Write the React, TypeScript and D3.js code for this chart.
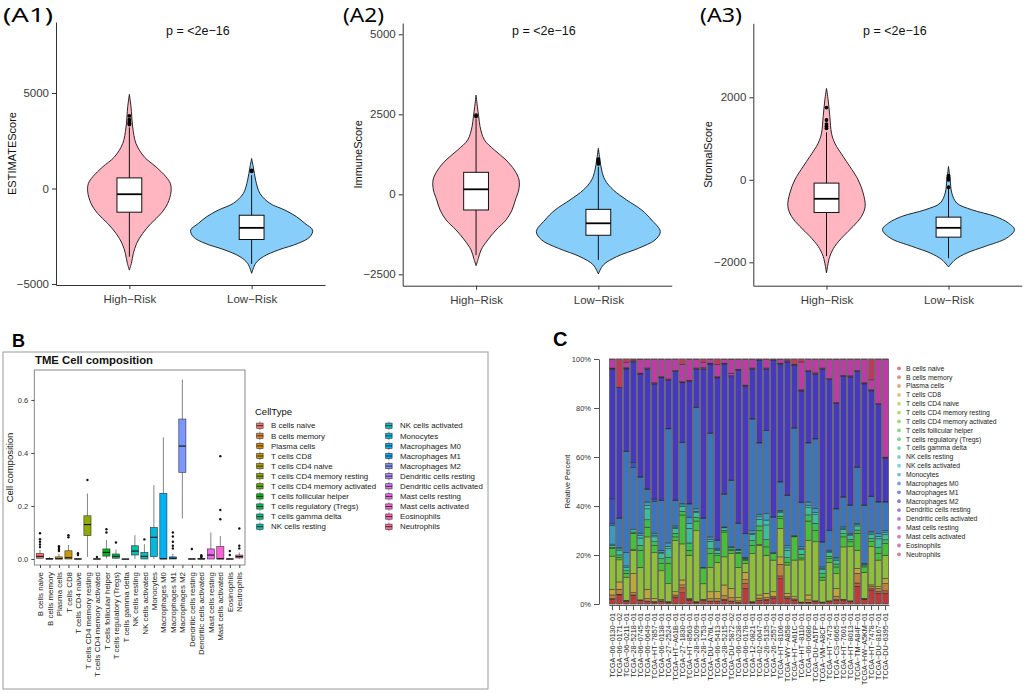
import React, { useEffect, useRef } from "react";
import * as d3 from "d3";

// ─── Page / fonts ─────────────────────────────────────────────────────────────
const W = 1026;
const H = 693;
const SANS = "'Liberation Sans', Arial, Helvetica, sans-serif";
const TAG_FONT = "'Noto Sans', 'Open Sans', sans-serif";
const M = "\u2212"; // R draws hyphens as minus signs

// ─── Panel A: risk groups, violin outlines and box stats ─────────────────────
const GROUPS = [`High${M}Risk`, `Low${M}Risk`];
const P_LABEL = `p = <2e${M}16`;

// violin outline: [score, relative density]
const ESTIMATE_HIGH: [number, number][] = [
  [4930, 0], [4270, 5], [3220, 10], [2350, 20], [1650, 45], [1130, 80], [610, 110], [260, 123],
  [-170, 125], [-780, 115], [-1310, 95], [-1830, 65], [-2350, 40], [-2870, 22], [-3400, 12],
  [-3920, 6], [-4270, 0],
];
const ESTIMATE_LOW: [number, number][] = [
  [1570, 0], [1130, 5], [440, 12], [-260, 25], [-780, 55], [-1130, 100], [-1480, 135],
  [-1830, 160], [-2180, 183], [-2530, 175], [-2870, 140], [-3220, 80], [-3570, 35],
  [-3920, 12], [-4440, 0],
];
const IMMUNE_HIGH: [number, number][] = [
  [3100, 0], [2740, 4], [2430, 8], [2115, 12], [1700, 25], [1385, 55], [1073, 90], [760, 115],
  [448, 129], [135, 128], [-177, 118], [-490, 108], [-802, 90], [-1115, 60], [-1427, 35],
  [-1740, 15], [-2000, 7], [-2230, 0],
];
const IMMUNE_LOW: [number, number][] = [
  [1437, 0], [1073, 5], [760, 10], [448, 20], [135, 45], [-177, 85], [-490, 130], [-802, 160],
  [-1167, 186], [-1427, 170], [-1688, 120], [-1948, 55], [-2208, 15], [-2490, 0],
];
const STROMAL_HIGH: [number, number][] = [
  [2218, 0], [1935, 5], [1532, 10], [1129, 15], [887, 25], [565, 50], [323, 70], [0, 95],
  [-323, 110], [-645, 116], [-887, 105], [-1129, 80], [-1371, 50], [-1613, 25], [-1855, 10],
  [-2258, 0],
];
const STROMAL_LOW: [number, number][] = [
  [323, 0], [0, 5], [-323, 10], [-565, 25], [-726, 70], [-887, 140], [-1048, 180], [-1210, 198],
  [-1411, 175], [-1613, 110], [-1774, 55], [-1935, 20], [-2113, 0],
];

// box stats: [lower whisker, q1, median, q3, upper whisker]
const ESTIMATE_BOX = [[-3570, -1240, -300, 555, 3200], [-3950, -2670, -2060, -1400, 700]];
const IMMUNE_BOX = [[-1900, -490, 156, 687, 2350], [-2050, -1280, -906, -470, 860]];
const STROMAL_BOX = [[-1850, -792, -460, -80, 1150], [-1900, -1390, -1164, -905, -200]];

const ESTIMATE_OUT = [[3350, 3420, 3500, 3600, 3800], [900, 950]];
const IMMUNE_OUT = [[2430, 2470], [950, 1000, 1050, 1100]];
const STROMAL_OUT = [[1250, 1300, 1350, 1450, 1750], [-180, 0, 30, 60, 100]];

const ESTIMATE_TICKS = [-5000, 0, 5000];
const IMMUNE_TICKS = [-2500, 0, 2500, 5000];
const STROMAL_TICKS = [-2000, 0, 2000];

// ─── Panel B / C: cell types ──────────────────────────────────────────────────
const CELL_TYPES = [
  "B cells naive", "B cells memory", "Plasma cells", "T cells CD8", "T cells CD4 naive",
  "T cells CD4 memory resting", "T cells CD4 memory activated", "T cells follicular helper",
  "T cells regulatory (Tregs)", "T cells gamma delta", "NK cells resting", "NK cells activated",
  "Monocytes", "Macrophages M0", "Macrophages M1", "Macrophages M2", "Dendritic cells resting",
  "Dendritic cells activated", "Mast cells resting", "Mast cells activated", "Eosinophils",
  "Neutrophils",
];

// panel B box stats: [lower whisker, q1, median, q3, upper whisker]
const B_STATS = [
  [0, 0.003, 0.01, 0.021, 0.034], [0, 0, 0, 0.002, 0.008], [0, 0, 0.001, 0.008, 0.02],
  [0, 0, 0.005, 0.031, 0.053], [0, 0, 0, 0.001, 0.003], [0.008, 0.088, 0.13, 0.163, 0.247],
  [0, 0, 0, 0.001, 0.002], [0.002, 0.011, 0.025, 0.038, 0.072], [0, 0.003, 0.01, 0.019, 0.036],
  [0, 0, 0, 0, 0], [0, 0.015, 0.03, 0.05, 0.09], [0, 0, 0.01, 0.025, 0.056],
  [0, 0.009, 0.082, 0.119, 0.279], [0, 0, 0.001, 0.248, 0.459], [0, 0, 0.003, 0.008, 0.02],
  [0.153, 0.327, 0.426, 0.528, 0.677], [0, 0, 0, 0.001, 0.002], [0, 0, 0, 0.002, 0.004],
  [0, 0, 0.015, 0.038, 0.1], [0, 0, 0.001, 0.047, 0.087], [0, 0, 0, 0.001, 0.003],
  [0, 0.004, 0.009, 0.015, 0.025],
];
const B_OUTLIERS = [
  [0.045, 0.055, 0.065, 0.075, 0.097], [], [0.03, 0.036, 0.042, 0.048], [0.082, 0.09],
  [0.015, 0.022], [0.298], [0.008], [0.1, 0.112], [0.062], [], [], [0.074], [], [],
  [0.04, 0.05, 0.065, 0.085, 0.1], [], [0.038], [0.006, 0.01, 0.014], [],
  [0.15, 0.185, 0.388], [0.015, 0.03], [0.04, 0.05, 0.115],
];
const B_TICKS = [0, 0.2, 0.4, 0.6];

// panel C samples and composition (percent per sample)
const SAMPLES = [
  "06-0130-01", "06-0171-02", "06-0211-01", "28-5218-01", "06-0745-01", "06-0649-01",
  "HT-7857-01", "06-0138-01", "27-2524-01", "HT-A61B-01", "27-1830-01", "HT-8563-01",
  "28-5209-01", "28-1753-01", "DU-A76L-01", "06-5413-01", "28-5215-01", "DU-5872-02",
  "06-0238-01", "06-0178-01", "12-0821-01", "02-0047-01", "26-5135-01", "26-2557-01",
  "HT-8106-01", "WY-A858-01", "HT-A61C-01", "HT-8110-01", "06-0686-01", "DU-A5TP-01",
  "VM-A8CF-01", "HT-7473-01", "CS-6665-01", "HT-7601-01", "HT-8013-01", "TM-A84F-01",
  "HW-A5KM-01", "HT-7478-01", "DU-8167-01", "DU-6395-01",
].map((s) => `TCGA-${s}`.replace(/-/g, M));

const C_B_NAIVE = [
  2, 3.7, 1, 3.5, 1.4, 1, 0.5, 1, 0.5, 2.7,
  4.6, 1.6, 0.5, 1.4, 1, 1, 1.6, 1, 0.5, 6.4,
  0.5, 1.4, 1.6, 2.3, 10.5, 2.3, 1.6, 0.5, 0.5, 1,
  0.5, 1, 1.6, 1.6, 1, 7.3, 1.9, 5.7, 4.4, 4.4,
];
const C_B_MEMORY = [
  0.2, 0.3, 0.1, 0.2, 0.1, 0.2, 0.1, 0.1, 0.1, 0.2,
  2, 0.1, 0.1, 0.1, 0.2, 0.2, 0.3, 0.2, 0.1, 2,
  0.1, 0.2, 0.2, 0.2, 1, 0.2, 0.1, 0.1, 0.2, 0.1,
  0.1, 0.1, 0.2, 0.1, 0.1, 1.3, 0.1, 0.6, 0.7, 1,
];
const C_PLASMA = [
  1.5, 2, 0.2, 1, 0.1, 1, 0.5, 0.3, 0.2, 0.8,
  1.2, 0.2, 0.2, 0.2, 1, 1, 1.5, 1.4, 0.7, 1.6,
  0.2, 0.8, 0.8, 0.7, 4.8, 0.6, 0.4, 0.1, 1, 0.1,
  0.1, 0.1, 1.3, 0.1, 0.1, 4, 0.1, 1, 1.2, 3,
];
const C_CD8 = [
  2.3, 3, 0.2, 7.8, 0.1, 3.8, 1.2, 0.5, 0.2, 1.3,
  2, 0.4, 0.2, 0.2, 2.8, 2.8, 4.4, 3.8, 1.4, 3,
  0.2, 1.3, 1.8, 1.8, 3, 1.3, 0.9, 0.1, 2, 0.1,
  0.1, 0.1, 3.3, 0.1, 0.1, 2, 0.2, 0.5, 0.8, 2.1,
];
const C_CD4_NAIVE = [
  0, 0, 0, 0, 0, 0, 0, 0, 0, 0,
  0, 0, 0, 0, 0, 0, 0, 0, 0, 0,
  0, 0, 0, 0, 0, 0, 0, 0, 0, 0,
  0, 0, 0, 0, 0, 0, 0, 0, 0, 0,
];
const C_CD4_MEM_RESTING = [
  13.6, 9, 9.5, 9.5, 13.4, 21.5, 18.7, 11.7, 7.4, 21,
  14.7, 17.7, 29, 6.5, 10, 12, 11.5, 14.3, 12.3, 3.6,
  19.7, 20.3, 15.6, 13, 11.7, 11.6, 15, 17.2, 22.3, 24.2,
  9, 15.8, 6.1, 21.5, 22.2, 7.4, 10.7, 15.6, 10.9, 9.5,
];
const C_CD4_MEM_ACTIVATED = [
  0, 0, 0, 0.3, 0, 0, 0, 0, 0, 0,
  0, 0, 0, 0, 0, 0, 0, 0, 0, 0,
  0, 0.3, 0, 0, 0, 0, 0, 0, 0, 0,
  0, 0, 0, 0, 0, 0, 0, 0, 0, 0,
];
const C_TFH = [
  3.1, 1, 1.6, 6.7, 7, 4, 3, 3, 8.2, 1.5,
  11.8, 2, 4, 6.6, 5.7, 2.7, 10.2, 1.3, 5.7, 1.4,
  3.3, 5.7, 3.4, 2.7, 4, 1, 9.5, 0.8, 8, 4.6,
  1.2, 1.5, 2.7, 4.1, 2, 7, 2.2, 2, 2.7, 4.8,
];
const C_TREGS = [
  0.5, 1, 1, 0.5, 2, 3, 1.5, 2, 2.5, 1.5,
  1.5, 3, 1.5, 0.1, 2, 1, 0.7, 0.5, 0.5, 0.4,
  2, 2, 3, 0.1, 1, 2, 0.2, 1.5, 2.5, 3,
  1.5, 1, 1.2, 1.3, 1, 1.3, 0.5, 1.3, 2.5, 1.5,
];
const C_GAMMA_DELTA = [
  0, 0, 0, 0, 0, 0, 0, 0, 0, 0,
  0, 0, 0, 0, 0, 0, 0, 0, 0, 0,
  0, 0, 0, 0, 0, 0, 0, 0, 0, 0,
  0, 0, 0, 0, 0, 0, 0, 0, 0, 0,
];
const C_NK_RESTING = [
  0.8, 2, 1.5, 1, 3, 4.5, 2, 2, 3.5, 2,
  2, 6, 2, 0.1, 3, 1.2, 1, 0.6, 0.8, 0.4,
  2.5, 2.7, 6, 0.2, 1.5, 3, 0.3, 2, 3, 3.5,
  1.7, 1.5, 1.6, 1.8, 1.5, 1.7, 0.6, 1.8, 3.5, 2.2,
];
const C_NK_ACTIVATED = [
  0.5, 0.5, 0.5, 0, 1, 1.3, 0.5, 0.6, 1, 0.5,
  0.6, 2, 0.5, 0, 0.8, 0.3, 0.2, 0.2, 0.2, 0.1,
  0.5, 1, 2, 0, 0.4, 1, 0, 0.5, 1, 1,
  0.5, 0.5, 0.5, 0.5, 0.4, 0.5, 0.2, 0.5, 1, 0.8,
];
const C_MONOCYTES = [
  7.5, 0.5, 5.4, 0, 1, 1.5, 1, 0.8, 1.4, 0.5,
  0.6, 2.6, 1, 0, 1, 0.5, 0.2, 0.1, 0.1, 0.1,
  1, 1, 2.6, 0, 0.5, 1, 0, 0.6, 1.3, 1.5,
  0.5, 0.5, 0.5, 0.5, 0.5, 0.5, 0.1, 0.5, 1.1, 0.7,
];
const C_M0 = [
  1, 12, 41.4, 25.5, 23, 5.2, 13, 20.4, 46.7, 10.4,
  24.8, 5.4, 41.5, 20.4, 42.5, 3.3, 13.4, 27.2, 10.7, 9.8,
  45.8, 29.3, 34, 14.6, 11.6, 20.5, 44, 18, 24.2, 28.6,
  10.2, 8, 20, 12.2, 11.6, 23, 23.8, 14.3, 13, 11.8,
];
const C_M1 = [
  10, 0.2, 0.2, 2, 0.2, 0.2, 1, 0.2, 0.2, 0.2,
  0.2, 0.2, 0.2, 0.2, 0.2, 0.2, 0.2, 0.2, 0.2, 0.2,
  0.2, 0.2, 0.2, 0.2, 0.2, 0.2, 0.2, 0.2, 0.2, 0.2,
  0.2, 0.2, 0.2, 0.2, 0.2, 0.2, 0.2, 0.2, 0.2, 0.2,
];
const C_M2 = [
  53, 53, 33.6, 41, 42, 49, 47, 50.1, 19.7, 52.6,
  24.2, 50, 15.5, 61.9, 28, 66, 53, 42.2, 62.5, 60.2,
  20.2, 33.6, 25, 64, 48, 54.5, 25.5, 45.3, 29, 26.4,
  70.6, 61.7, 43, 49.2, 52.4, 39, 49.6, 42.9, 39.7, 17.7,
];
const C_DC_RESTING = [
  0.2, 0, 0.2, 0.5, 0.2, 0.2, 0.2, 0.2, 0.2, 0.2,
  0.2, 0.2, 0.2, 0.3, 0.2, 0.2, 0.2, 0.5, 0.2, 0.2,
  0.2, 0.2, 0.2, 0.2, 0.2, 0.3, 0.2, 0.2, 0.2, 0.2,
  0.2, 0.2, 0.2, 0.2, 0.2, 0.2, 0.2, 0.2, 0.2, 0.2,
];
const C_DC_ACTIVATED = [
  0, 0, 0.1, 0, 0, 0, 0.1, 0, 0, 0,
  0, 0, 0, 0, 0.1, 0, 0, 0, 0, 0,
  0, 0, 0, 0, 0, 0, 0, 0.1, 0, 0,
  0, 0, 0, 0, 0, 0, 0, 0, 0, 0,
];
const C_MAST_RESTING = [
  0.3, 0.2, 0.3, 0.2, 0.3, 0.3, 0.3, 0.3, 0.3, 0.3,
  0.3, 0.3, 0.3, 0.5, 0.3, 0.3, 0.3, 1, 0.3, 0.3,
  0.3, 0.2, 0.3, 0.2, 0.3, 0.3, 0.2, 0.3, 0.3, 0.3,
  0.3, 0.3, 0.3, 0.3, 0.3, 0.3, 0.3, 0.3, 0.3, 0.3,
];
const C_MAST_ACTIVATED = [
  3.5, 0, 2, 0.5, 5.5, 3.5, 9.5, 7, 8, 4.5,
  7, 8.5, 3.5, 2, 1.5, 5, 1.5, 5.5, 4, 10.5,
  3.5, 0, 3.5, 0, 1.5, 0.5, 0, 11.3, 4.5, 5.5,
  3.5, 7.8, 17.5, 6.5, 6.7, 4.5, 9.5, 4, 18, 40,
];
const C_EOSINOPHILS = [
  0, 0, 0, 0, 0.1, 0, 0, 0, 0, 0,
  0, 0, 0, 0, 0, 0, 0, 0.1, 0, 0,
  0, 0, 0, 0, 0, 0, 0, 0, 0, 0,
  0, 0, 0.1, 0, 0, 0, 0, 0, 0, 0,
];
const C_NEUTROPHILS = [
  0.2, 11.5, 1.5, 0.2, 0.2, 0.2, 0.2, 0.2, 0.2, 0.2,
  2.2, 0.2, 0.2, 1.5, 0.2, 2.2, 0.2, 0.2, 0.2, 0.2,
  0.2, 0.2, 0.2, 0.2, 0.2, 0.2, 2.2, 1.2, 0.2, 0.2,
  0.2, 0.2, 0.2, 0.2, 0.2, 0.2, 0.2, 8.5, 0.2, 0.2,
];
const C_COMPOSITION = [
  C_B_NAIVE, C_B_MEMORY, C_PLASMA, C_CD8, C_CD4_NAIVE, C_CD4_MEM_RESTING, C_CD4_MEM_ACTIVATED,
  C_TFH, C_TREGS, C_GAMMA_DELTA, C_NK_RESTING, C_NK_ACTIVATED, C_MONOCYTES, C_M0, C_M1, C_M2,
  C_DC_RESTING, C_DC_ACTIVATED, C_MAST_RESTING, C_MAST_ACTIVATED, C_EOSINOPHILS, C_NEUTROPHILS,
];
const C_TICKS = [0, 0.2, 0.4, 0.6, 0.8, 1];

// ─── Colours ──────────────────────────────────────────────────────────────────
const VIOLIN_FILL = ["#FFB6C1", "#87CEFA"];

// R's hcl() (polar LUV), as used by ggplot's default hue palette
function hclLuv(h: number, c: number, l: number) {
  const hr = (h * Math.PI) / 180;
  const u = c * Math.cos(hr);
  const v = c * Math.sin(hr);
  const Xn = 95.047, Yn = 100, Zn = 108.883;
  const den = Xn + 15 * Yn + 3 * Zn;
  const un = (4 * Xn) / den, vn = (9 * Yn) / den;
  const Y = l > 8 ? Yn * Math.pow((l + 16) / 116, 3) : (Yn * l) / 903.3;
  const up = u / (13 * l) + un;
  const vp = v / (13 * l) + vn;
  const X = (Y * 9 * up) / (4 * vp);
  const Z = (Y * (12 - 3 * up - 20 * vp)) / (4 * vp);
  const [x, y, z] = [X / 100, Y / 100, Z / 100];
  const lin = [
    3.2406 * x - 1.5372 * y - 0.4986 * z,
    -0.9689 * x + 1.8758 * y + 0.0415 * z,
    0.0557 * x - 0.204 * y + 1.057 * z,
  ];
  const gam = (k: number) => {
    const q = Math.min(1, Math.max(0, k));
    return q <= 0.0031308 ? 12.92 * q : 1.055 * Math.pow(q, 1 / 2.4) - 0.055;
  };
  return d3.rgb(gam(lin[0]) * 255, gam(lin[1]) * 255, gam(lin[2]) * 255).formatHex();
}

// R's rainbow(): hsv hues spread evenly
function hsv(h: number, s: number, v: number) {
  const f = (n: number) => {
    const k = (n + h / 60) % 6;
    return v - v * s * Math.max(0, Math.min(k, 4 - k, 1));
  };
  return d3.rgb(f(5) * 255, f(3) * 255, f(1) * 255).formatHex();
}

const N = CELL_TYPES.length;
const HUE_COLORS = CELL_TYPES.map((_, i) => hclLuv(15 + (360 * i) / N, 100, 65));
const RAINBOW = CELL_TYPES.map((_, i) => hsv((360 * i) / N, 0.7, 0.75));

// ─── Panel A layouts ──────────────────────────────────────────────────────────
type ViolinPanel = {
  tag: string; tagX: number; tagW: number; yTitle: string; yTitleX: number;
  x0: number; x1: number; yTop: number; yBot: number; domain: [number, number];
  ticks: number[]; pX: number; halfMax: number;
  violins: [number, number][][]; box: number[][]; out: number[][];
};

const A_PANELS: ViolinPanel[] = [
  {
    tag: "(A1)", tagX: 3, tagW: 50, yTitle: "ESTIMATEScore", yTitleX: 16,
    x0: 56, x1: 325, yTop: 22, yBot: 285, domain: [-5052, 8717], ticks: ESTIMATE_TICKS,
    pX: 166, halfMax: 61, violins: [ESTIMATE_HIGH, ESTIMATE_LOW], box: ESTIMATE_BOX, out: ESTIMATE_OUT,
  },
  {
    tag: "(A2)", tagX: 343, tagW: 41, yTitle: "ImmuneScore", yTitleX: 362,
    x0: 402.7, x1: 671.7, yTop: 23, yBot: 285.7, domain: [-2856, 5353], ticks: IMMUNE_TICKS,
    pX: 512, halfMax: 62, violins: [IMMUNE_HIGH, IMMUNE_LOW], box: IMMUNE_BOX, out: IMMUNE_OUT,
  },
  {
    tag: "(A3)", tagX: 700, tagW: 42, yTitle: "StromalScore", yTitleX: 712,
    x0: 753.3, x1: 1021.7, yTop: 23.3, yBot: 285.7, domain: [-2567, 3794], ticks: STROMAL_TICKS,
    pX: 863, halfMax: 66, violins: [STROMAL_HIGH, STROMAL_LOW], box: STROMAL_BOX, out: STROMAL_OUT,
  },
];

type Sel = d3.Selection<SVGSVGElement, unknown, null, undefined>;

function styleAxis(ax: d3.Selection<SVGGElement, unknown, null, undefined>, size: number, color: string) {
  ax.select(".domain").attr("stroke", "#333").attr("stroke-width", 1);
  ax.selectAll(".tick line").attr("stroke", "#333");
  ax.selectAll(".tick text")
    .attr("fill", color)
    .attr("font-size", size)
    .attr("font-family", SANS);
}

function drawViolinPanel(svg: Sel, p: ViolinPanel) {
  const g = svg.append("g");
  const y = d3.scaleLinear().domain(p.domain).range([p.yBot, p.yTop]);
  const x = d3.scalePoint<string>().domain(GROUPS).range([p.x0, p.x1]).padding(0.6);
  const maxD = d3.max(p.violins.flat(), (d) => d[1]) ?? 1;
  const w = d3.scaleLinear().domain([0, maxD]).range([0, p.halfMax]);
  const boxHalf = 12.4;

  p.violins.forEach((v, i) => {
    const cx = x(GROUPS[i]) ?? 0;
    const area = d3
      .area<[number, number]>()
      .y((d) => y(d[0]))
      .x0((d) => cx - w(d[1]))
      .x1((d) => cx + w(d[1]))
      .curve(d3.curveCatmullRom.alpha(0.5));
    g.append("path")
      .attr("d", area(v))
      .attr("fill", VIOLIN_FILL[i])
      .attr("stroke", "#111")
      .attr("stroke-width", 0.9);

    const [lo, q1, med, q3, hi] = p.box[i];
    g.append("line")
      .attr("x1", cx).attr("x2", cx).attr("y1", y(hi)).attr("y2", y(lo))
      .attr("stroke", "#111").attr("stroke-width", 1);
    g.append("rect")
      .attr("x", cx - boxHalf).attr("y", y(q3))
      .attr("width", boxHalf * 2).attr("height", y(q1) - y(q3))
      .attr("fill", "#fff").attr("stroke", "#111").attr("stroke-width", 1);
    g.append("line")
      .attr("x1", cx - boxHalf).attr("x2", cx + boxHalf).attr("y1", y(med)).attr("y2", y(med))
      .attr("stroke", "#000").attr("stroke-width", 1.8);
    g.selectAll(null)
      .data(p.out[i])
      .join("circle")
      .attr("cx", cx).attr("cy", (d) => y(d)).attr("r", 1.9).attr("fill", "#000");
  });

  const yAx = g.append("g").attr("transform", `translate(${p.x0},0)`)
    .call(d3.axisLeft(y).tickValues(p.ticks).tickSize(4).tickSizeOuter(0).tickFormat(d3.format("d")));
  styleAxis(yAx, 11.5, "#3a3a3a");
  const xAx = g.append("g").attr("transform", `translate(0,${p.yBot})`)
    .call(d3.axisBottom(x).tickSize(4).tickSizeOuter(0));
  styleAxis(xAx, 11.5, "#3a3a3a");
  xAx.selectAll(".tick text").attr("dy", "0.95em");

  g.append("text")
    .attr("transform", `translate(${p.yTitleX},${(p.yTop + p.yBot) / 2}) rotate(-90)`)
    .attr("text-anchor", "middle").attr("font-size", 11).attr("font-family", SANS)
    .attr("fill", "#111").text(p.yTitle);
  g.append("text")
    .attr("x", p.pX).attr("y", 35).attr("font-size", 12.5).attr("font-family", SANS)
    .attr("fill", "#111").text(P_LABEL);
  g.append("text")
    .attr("x", p.tagX).attr("y", 22).attr("font-size", 19.5).attr("font-family", TAG_FONT)
    .attr("textLength", p.tagW).attr("lengthAdjust", "spacingAndGlyphs")
    .attr("fill", "#000").text(p.tag);
}

// ─── Panel B ──────────────────────────────────────────────────────────────────
function drawBoxPanel(svg: Sel) {
  const g = svg.append("g");
  const left = 34.3, right = 245, top = 370, bottom = 565;

  g.append("rect").attr("x", 3).attr("y", 352).attr("width", 485).attr("height", 337)
    .attr("fill", "none").attr("stroke", "#9a9a9a").attr("stroke-width", 1);
  g.append("text").attr("x", 12).attr("y", 347).attr("font-size", 18).attr("font-weight", "bold")
    .attr("font-family", SANS).text("B");
  g.append("text").attr("x", 35).attr("y", 364).attr("font-size", 11.3).attr("font-weight", "bold")
    .attr("font-family", SANS).attr("fill", "#111").text("TME Cell composition");

  const y = d3.scaleLinear().domain([-0.0226, 0.713]).range([bottom, top]);
  const x = d3.scalePoint<string>().domain(CELL_TYPES).range([left, right]).padding(0.6);
  const bw = x.step() * 0.75;

  g.append("rect").attr("x", left).attr("y", top).attr("width", right - left).attr("height", bottom - top)
    .attr("fill", "#fff").attr("stroke", "#7a7a7a").attr("stroke-width", 0.9);

  CELL_TYPES.forEach((c, i) => {
    const cx = x(c) ?? 0;
    const [lo, q1, med, q3, hi] = B_STATS[i];
    g.append("line").attr("x1", cx).attr("x2", cx).attr("y1", y(hi)).attr("y2", y(lo))
      .attr("stroke", "#333").attr("stroke-width", 0.6);
    g.append("rect").attr("x", cx - bw / 2).attr("y", y(q3)).attr("width", bw)
      .attr("height", Math.max(0.4, y(q1) - y(q3)))
      .attr("fill", HUE_COLORS[i]).attr("stroke", "#333").attr("stroke-width", 0.6);
    g.append("line").attr("x1", cx - bw / 2).attr("x2", cx + bw / 2).attr("y1", y(med)).attr("y2", y(med))
      .attr("stroke", "#111").attr("stroke-width", 1.1);
    g.selectAll(null).data(B_OUTLIERS[i]).join("circle")
      .attr("cx", cx).attr("cy", (d) => y(d)).attr("r", 1.2).attr("fill", "#111");
  });

  const yAx = g.append("g").attr("transform", `translate(${left},0)`)
    .call(d3.axisLeft(y).tickValues(B_TICKS).tickSize(3).tickSizeOuter(0).tickFormat(d3.format(".1f")));
  yAx.select(".domain").remove();
  yAx.selectAll(".tick line").attr("stroke", "#444");
  yAx.selectAll(".tick text").attr("font-size", 7.5).attr("fill", "#333").attr("font-family", SANS);

  const xAx = g.append("g").attr("transform", `translate(0,${bottom})`)
    .call(d3.axisBottom(x).tickSize(3).tickSizeOuter(0));
  xAx.select(".domain").remove();
  xAx.selectAll(".tick line").attr("stroke", "#444");
  xAx.selectAll(".tick text")
    .attr("font-size", 7.9).attr("fill", "#222").attr("font-family", SANS)
    .attr("text-anchor", "end").attr("transform", "rotate(-90)")
    .attr("x", -7).attr("y", 0).attr("dy", "0.33em");

  g.append("text").attr("transform", `translate(13,${(top + bottom) / 2}) rotate(-90)`)
    .attr("text-anchor", "middle").attr("font-size", 9.5).attr("font-family", SANS)
    .attr("fill", "#111").text("Cell composition");

  // legend
  g.append("text").attr("x", 255).attr("y", 415).attr("font-size", 9.5).attr("font-family", SANS)
    .attr("fill", "#111").text("CellType");
  CELL_TYPES.forEach((c, i) => {
    const col = Math.floor(i / 11);
    const row = i % 11;
    const kx = col === 0 ? 256.7 : 385.7;
    const ky = 425.7 + row * 10.1;
    const item = g.append("g");
    item.append("line").attr("x1", kx + 3.2).attr("x2", kx + 3.2).attr("y1", ky - 4.2).attr("y2", ky + 4.2)
      .attr("stroke", "#333").attr("stroke-width", 0.6);
    item.append("rect").attr("x", kx).attr("y", ky - 2.6).attr("width", 6.4).attr("height", 5.2)
      .attr("fill", HUE_COLORS[i]).attr("stroke", "#333").attr("stroke-width", 0.6);
    item.append("line").attr("x1", kx).attr("x2", kx + 6.4).attr("y1", ky).attr("y2", ky)
      .attr("stroke", "#111").attr("stroke-width", 0.8);
    item.append("text").attr("x", kx + 14.3).attr("y", ky).attr("dy", "0.35em")
      .attr("font-size", 7.9).attr("font-family", SANS).attr("fill", "#222").text(c);
  });
}

// ─── Panel C ──────────────────────────────────────────────────────────────────
function drawStackPanel(svg: Sel) {
  const g = svg.append("g");
  const top = 359, bottom = 604;

  g.append("text").attr("x", 553).attr("y", 346).attr("font-size", 20).attr("font-weight", "bold")
    .attr("font-family", SANS).text("C");

  const rows = SAMPLES.map((s, j) => {
    const r: Record<string, number | string> = { sample: s };
    CELL_TYPES.forEach((c, i) => (r[c] = C_COMPOSITION[i][j]));
    return r;
  });
  const series = d3.stack<Record<string, number | string>>()
    .keys(CELL_TYPES)
    .value((d, k) => d[k] as number)
    .offset(d3.stackOffsetExpand)(rows);

  const x = d3.scaleBand<string>().domain(SAMPLES).range([609, 889]).paddingInner(0.17).paddingOuter(0.08);
  const y = d3.scaleLinear().domain([0, 1]).range([bottom, top]);

  series.forEach((s, i) => {
    g.append("g").selectAll("rect")
      .data(s.filter((d) => d[1] - d[0] > 0))
      .join("rect")
      .attr("x", (d) => x(d.data.sample as string) ?? 0)
      .attr("width", x.bandwidth())
      .attr("y", (d) => y(d[1]))
      .attr("height", (d) => y(d[0]) - y(d[1]))
      .attr("fill", RAINBOW[i])
      .attr("stroke", "#222")
      .attr("stroke-width", 0.45);
  });
  g.append("g").selectAll("rect").data(SAMPLES).join("rect")
    .attr("x", (d) => x(d) ?? 0).attr("width", x.bandwidth())
    .attr("y", top).attr("height", bottom - top)
    .attr("fill", "none").attr("stroke", "#666").attr("stroke-width", 0.6);

  const yAx = g.append("g").attr("transform", "translate(599,0)")
    .call(d3.axisLeft(y).tickValues(C_TICKS).tickSize(5).tickSizeOuter(0).tickFormat(d3.format(".0%")));
  yAx.select(".domain").attr("stroke", "#555");
  yAx.selectAll(".tick line").attr("stroke", "#555");
  yAx.selectAll(".tick text").attr("font-size", 7.5).attr("fill", "#333").attr("font-family", SANS).attr("x", -8);

  const xAx = g.append("g").attr("transform", `translate(0,${bottom + 1})`)
    .call(d3.axisBottom(x).tickSize(5).tickSizeOuter(0));
  xAx.select(".domain").attr("stroke", "#555");
  xAx.selectAll(".tick line").attr("stroke", "#555");
  xAx.selectAll(".tick text")
    .attr("font-size", 7.2).attr("fill", "#222").attr("font-family", SANS)
    .attr("text-anchor", "end").attr("transform", "rotate(-90)")
    .attr("x", -8).attr("y", 0).attr("dy", "0.33em");

  g.append("text").attr("transform", `translate(570,${(top + bottom) / 2}) rotate(-90)`)
    .attr("text-anchor", "middle").attr("font-size", 7.3).attr("font-family", SANS)
    .attr("fill", "#222").text("Relative Percent");

  // legend
  CELL_TYPES.forEach((c, i) => {
    const ly = 368.3 + i * 8.86;
    g.append("circle").attr("cx", 899).attr("cy", ly).attr("r", 1.9)
      .attr("fill", RAINBOW[i]).attr("fill-opacity", 0.65);
    g.append("text").attr("x", 906).attr("y", ly).attr("dy", "0.35em")
      .attr("font-size", 6.8).attr("font-family", SANS).attr("fill", "#222").text(c);
  });
}

export default function App() {
  const svgRef = useRef<SVGSVGElement>(null);

  useEffect(() => {
    const node = svgRef.current;
    if (!node) return;
    const svg = d3.select(node);
    svg.selectAll("*").remove();
    svg.append("rect").attr("width", W).attr("height", H).attr("fill", "#fff");

    A_PANELS.forEach((p) => drawViolinPanel(svg, p));
    drawBoxPanel(svg);
    drawStackPanel(svg);
  }, []);

  return (
    <svg
      ref={svgRef}
      width={W}
      height={H}
      style={{ position: "absolute", left: 0, top: 0, fontFamily: SANS }}
    />
  );
}
